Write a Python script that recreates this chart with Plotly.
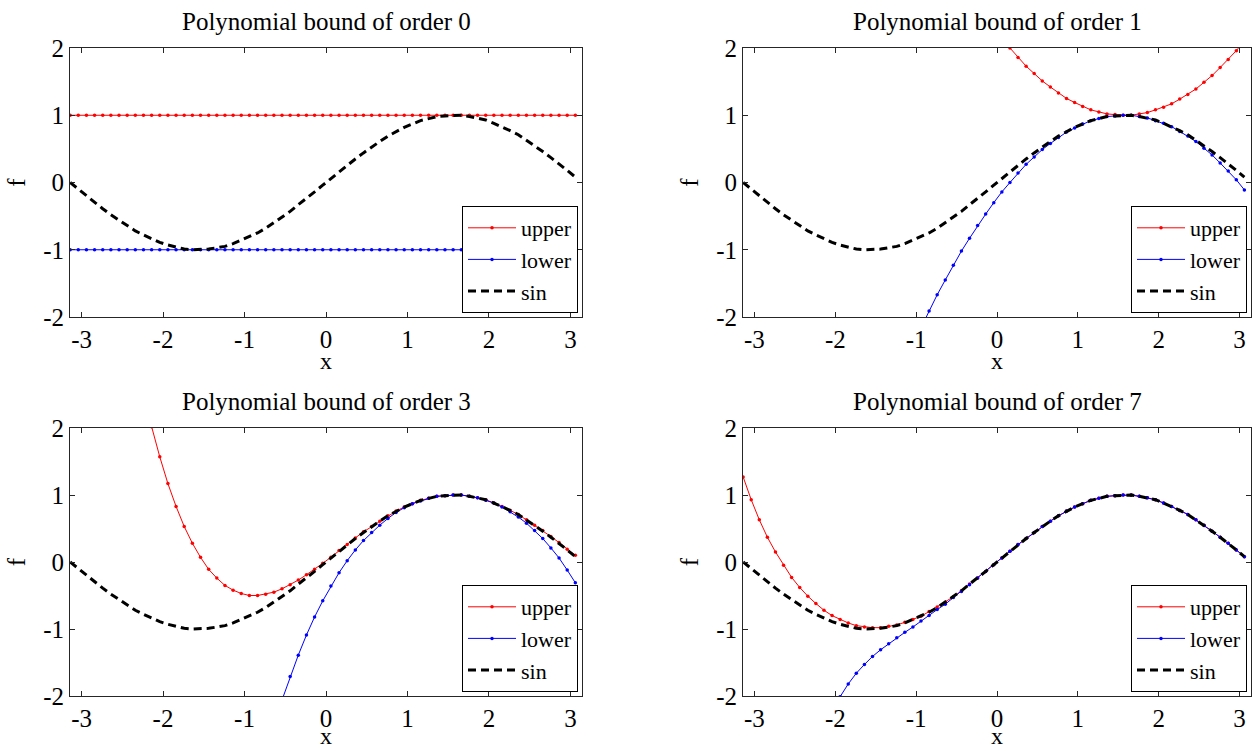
import plotly.graph_objects as go

# ---- data (x step 0.1 starting at -pi) ----
X = [-3.14, -3.04, -2.94, -2.84, -2.74, -2.64, -2.54, -2.44, -2.34, -2.24,
     -2.14, -2.04, -1.94, -1.84, -1.74, -1.64, -1.54, -1.44, -1.34, -1.24,
     -1.14, -1.04, -0.94, -0.84, -0.74, -0.64, -0.54, -0.44, -0.34, -0.24,
     -0.14, -0.04, 0.06, 0.16, 0.26, 0.36, 0.46, 0.56, 0.66, 0.76,
     0.86, 0.96, 1.06, 1.16, 1.26, 1.36, 1.46, 1.56, 1.66, 1.76,
     1.86, 1.96, 2.06, 2.16, 2.26, 2.36, 2.46, 2.56, 2.66, 2.76,
     2.86, 2.96, 3.06]

SIN = [-0.00, -0.10, -0.20, -0.30, -0.39, -0.48, -0.56, -0.64, -0.72, -0.78,
       -0.84, -0.89, -0.93, -0.96, -0.99, -1.00, -1.00, -0.99, -0.97, -0.95,
       -0.91, -0.86, -0.81, -0.75, -0.68, -0.60, -0.52, -0.43, -0.33, -0.24,
       -0.14, -0.04, 0.06, 0.16, 0.26, 0.35, 0.44, 0.53, 0.61, 0.69,
       0.76, 0.82, 0.87, 0.92, 0.95, 0.98, 0.99, 1.00, 1.00, 0.98,
       0.96, 0.93, 0.88, 0.83, 0.77, 0.71, 0.63, 0.55, 0.46, 0.37,
       0.28, 0.18, 0.08]

UPPER_0 = [1.00] * 63
LOWER_0 = [-1.00] * 63

UPPER_1 = [12.10, 11.64, 11.18, 10.73, 10.30, 9.87, 9.46, 9.05, 8.65, 8.27,
           7.89, 7.52, 7.17, 6.82, 6.49, 6.16, 5.84, 5.54, 5.24, 4.95,
           4.68, 4.41, 4.16, 3.91, 3.67, 3.45, 3.23, 3.02, 2.83, 2.64,
           2.47, 2.30, 2.14, 2.00, 1.86, 1.73, 1.62, 1.51, 1.42, 1.33,
           1.25, 1.19, 1.13, 1.08, 1.05, 1.02, 1.01, 1.00, 1.00, 1.02,
           1.04, 1.08, 1.12, 1.17, 1.24, 1.31, 1.39, 1.49, 1.59, 1.71,
           1.83, 1.96, 2.11]
LOWER_1 = [-10.10, -9.64, -9.18, -8.73, -8.30, -7.87, -7.46, -7.05, -6.65, -6.27,
           -5.89, -5.52, -5.17, -4.82, -4.49, -4.16, -3.84, -3.54, -3.24, -2.95,
           -2.68, -2.41, -2.16, -1.91, -1.67, -1.45, -1.23, -1.02, -0.83, -0.64,
           -0.47, -0.30, -0.14, 0.00, 0.14, 0.27, 0.38, 0.49, 0.58, 0.67,
           0.75, 0.81, 0.87, 0.92, 0.95, 0.98, 0.99, 1.00, 1.00, 0.98,
           0.96, 0.92, 0.88, 0.83, 0.76, 0.69, 0.61, 0.51, 0.41, 0.29,
           0.17, 0.04, -0.11]

UPPER_3 = [10.44, 9.22, 8.09, 7.06, 6.11, 5.25, 4.46, 3.75, 3.11, 2.53,
           2.02, 1.57, 1.17, 0.83, 0.53, 0.28, 0.07, -0.11, -0.24, -0.35,
           -0.42, -0.47, -0.50, -0.50, -0.48, -0.45, -0.40, -0.34, -0.27, -0.19,
           -0.11, -0.02, 0.07, 0.17, 0.26, 0.36, 0.45, 0.53, 0.61, 0.69,
           0.76, 0.82, 0.87, 0.92, 0.95, 0.98, 0.99, 1.00, 1.00, 0.98,
           0.96, 0.93, 0.88, 0.83, 0.77, 0.71, 0.63, 0.55, 0.47, 0.38,
           0.29, 0.19, 0.10]
LOWER_3 = [-30.65, -28.50, -26.46, -24.53, -22.71, -20.99, -19.37, -17.85, -16.42, -15.07,
           -13.81, -12.62, -11.51, -10.47, -9.50, -8.60, -7.75, -6.97, -6.24, -5.56,
           -4.93, -4.35, -3.82, -3.32, -2.87, -2.45, -2.06, -1.71, -1.39, -1.09,
           -0.82, -0.58, -0.36, -0.16, 0.02, 0.18, 0.32, 0.44, 0.55, 0.65,
           0.74, 0.81, 0.87, 0.91, 0.95, 0.98, 0.99, 1.00, 1.00, 0.98,
           0.96, 0.92, 0.88, 0.82, 0.75, 0.67, 0.58, 0.47, 0.35, 0.21,
           0.06, -0.12, -0.31]

UPPER_7 = [1.27, 0.93, 0.63, 0.37, 0.15, -0.05, -0.23, -0.38, -0.51, -0.62,
           -0.72, -0.80, -0.86, -0.91, -0.95, -0.97, -0.98, -0.98, -0.96, -0.94,
           -0.90, -0.86, -0.81, -0.74, -0.67, -0.60, -0.52, -0.43, -0.33, -0.24,
           -0.14, -0.04, 0.06, 0.16, 0.26, 0.35, 0.44, 0.53, 0.61, 0.69,
           0.76, 0.82, 0.87, 0.92, 0.95, 0.98, 0.99, 1.00, 1.00, 0.98,
           0.96, 0.93, 0.88, 0.83, 0.77, 0.71, 0.63, 0.55, 0.46, 0.37,
           0.28, 0.18, 0.08]
LOWER_7 = [-10.80, -9.23, -7.89, -6.75, -5.79, -4.97, -4.29, -3.71, -3.23, -2.84,
           -2.51, -2.23, -2.01, -1.82, -1.66, -1.53, -1.41, -1.31, -1.22, -1.13,
           -1.05, -0.97, -0.88, -0.80, -0.71, -0.63, -0.53, -0.44, -0.34, -0.24,
           -0.14, -0.04, 0.06, 0.16, 0.26, 0.35, 0.44, 0.53, 0.61, 0.69,
           0.76, 0.82, 0.87, 0.92, 0.95, 0.98, 0.99, 1.00, 1.00, 0.98,
           0.96, 0.93, 0.88, 0.83, 0.77, 0.71, 0.63, 0.55, 0.46, 0.37,
           0.28, 0.18, 0.08]

ORDERS = [0, 1, 3, 7]
UPPERS = [UPPER_0, UPPER_1, UPPER_3, UPPER_7]
LOWERS = [LOWER_0, LOWER_1, LOWER_3, LOWER_7]
TITLES = ["Polynomial bound of order %d" % o for o in ORDERS]

X_TICKS = [-3, -2, -1, 0, 1, 2, 3]
X_TICK_TEXT = ["-3", "-2", "-1", "0", "1", "2", "3"]
Y_TICKS = [-2, -1, 0, 1, 2]
Y_TICK_TEXT = ["-2", "-1", "0", "1", "2"]

# ---- layout geometry (pixels in a 1256 x 751 canvas) ----
W, H = 1256, 751
FONT = "Liberation Serif, Times New Roman, Times, serif"
AXC = "#262626"
# (left, right, top, bottom) of each axes box
BOXES = [(70, 582, 48, 317), (743, 1251, 48, 317),
         (70, 582, 428, 696), (743, 1251, 428, 696)]

fig = go.Figure()
layout = dict(
    width=W, height=H,
    margin=dict(l=0, r=0, t=0, b=0, autoexpand=False),
    paper_bgcolor="white", plot_bgcolor="white",
    font=dict(family=FONT, size=24, color="black"),
    annotations=[],
    showlegend=True,
)

for i in range(4):
    sfx = "" if i == 0 else str(i + 1)
    xa, ya = "x" + sfx, "y" + sfx
    leg = "legend" + sfx
    l, r, t, b = BOXES[i]
    fig.add_trace(go.Scatter(
        x=X, y=UPPERS[i], name="upper", mode="lines+markers",
        line=dict(color="#ff0000", width=1),
        marker=dict(color="#ff0000", size=3.5, symbol="circle"),
        xaxis=xa, yaxis=ya, legend=leg))
    fig.add_trace(go.Scatter(
        x=X, y=LOWERS[i], name="lower", mode="lines+markers",
        line=dict(color="#0000ff", width=1),
        marker=dict(color="#0000ff", size=3.5, symbol="circle"),
        xaxis=xa, yaxis=ya, legend=leg))
    fig.add_trace(go.Scatter(
        x=X, y=SIN, name="sin", mode="lines",
        line=dict(color="black", width=3, dash="8px,5px"),
        xaxis=xa, yaxis=ya, legend=leg))

    common = dict(showline=True, linecolor=AXC, linewidth=1, mirror="ticks",
                  ticks="inside", ticklen=5, tickcolor=AXC, tickwidth=1,
                  showgrid=False, zeroline=False, automargin=False,
                  tickfont=dict(family=FONT, size=25, color="black"))
    layout["xaxis" + sfx] = dict(
        domain=[l / W, r / W], anchor=ya, range=[-3.1416, 3.1416],
        tickmode="array", tickvals=X_TICKS, ticktext=X_TICK_TEXT,
        **common)
    layout["yaxis" + sfx] = dict(
        domain=[1 - b / H, 1 - t / H], anchor=xa, range=[-2, 2],
        tickmode="array", tickvals=Y_TICKS, ticktext=Y_TICK_TEXT,
        title=dict(text="f", font=dict(family=FONT, size=25), standoff=10),
        **common)
    layout[leg] = dict(
        x=(r - 4) / W, y=1 - (b - 4) / H, xanchor="right", yanchor="bottom",
        xref="paper", yref="paper",
        bgcolor="white", bordercolor="black", borderwidth=1,
        font=dict(family=FONT, size=22, color="black"),
        tracegroupgap=0, itemwidth=48)
    # panel title
    layout["annotations"].append(dict(
        text=TITLES[i], x=(l + r) / 2 / W, y=1 - (t - 27) / H,
        xref="paper", yref="paper", xanchor="center", yanchor="middle",
        showarrow=False, font=dict(family=FONT, size=25, color="black")))
    # x-axis label
    if b + 62 <= H:
        xl = dict(y=1 - (b + 44) / H, yanchor="middle")
    else:
        xl = dict(y=0, yanchor="bottom")
    layout["annotations"].append(dict(
        text="x", x=(l + r) / 2 / W, xref="paper", yref="paper",
        xanchor="center", showarrow=False,
        font=dict(family=FONT, size=24, color="black"), **xl))

fig.update_layout(**layout)
fig.write_html(
    "out.html",
    config={"displayModeBar": False, "staticPlot": True},
    post_script="document.body.style.margin='0px';"
                "document.body.style.overflow='hidden';")
